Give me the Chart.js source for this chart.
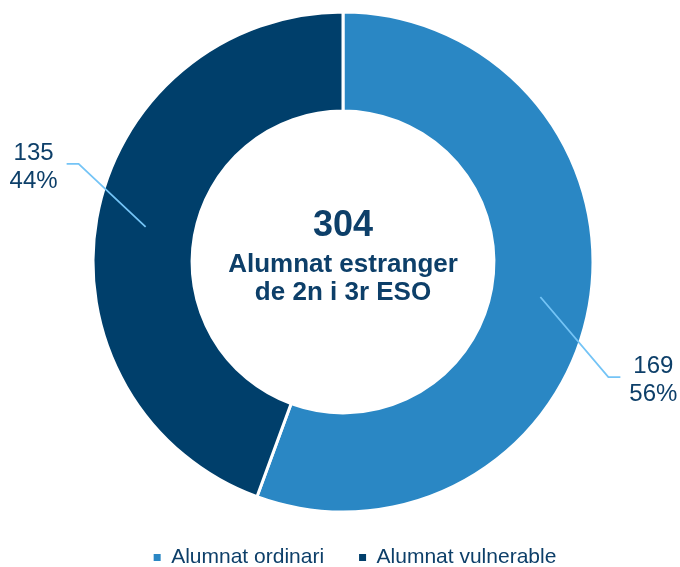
<!DOCTYPE html>
<html>
<head>
<meta charset="utf-8">
<script src="https://cdn.jsdelivr.net/npm/chart.js@4/dist/chart.umd.min.js"></script>
<style>
  html, body { margin: 0; padding: 0; background: #fff; }
  #wrap { width: 680px; height: 567px; position: relative; }
</style>
</head>
<body>
<div id="wrap"><canvas id="chart"></canvas></div>
<script>
// data
const categories = ['Alumnat ordinari', 'Alumnat vulnerable'];
const values = [169, 135];
const centerLabel = ['Alumnat estranger', 'de 2n i 3r ESO'];

const colors = ['#2A87C4', '#003F6B'];
const textColor = '#0D3F69';
const leaderColor = '#74C4F6';
const FONT = "'Liberation Sans', Arial, sans-serif";

// leader line offsets from slice middle (px), per slice
const leaderDx = [68, -67];
const leaderDy = [80, -63];

const total = values.reduce((a, b) => a + b, 0);

const doughnutLabels = {
  id: 'doughnutLabels',
  afterLayout(chart) {
    // legend sits a little right of the doughnut centre
    chart.legend.left += 12;
    chart.legend.right += 12;
  },
  afterDatasetsDraw(chart) {
    const ctx = chart.ctx;
    const meta = chart.getDatasetMeta(0);
    ctx.save();
    meta.data.forEach((arc, i) => {
      const p = arc.getProps(['x', 'y', 'startAngle', 'endAngle', 'innerRadius', 'outerRadius'], true);
      const a = (p.startAngle + p.endAngle) / 2;
      const r = (p.innerRadius + p.outerRadius) / 2;
      const sx = p.x + Math.cos(a) * r;
      const sy = p.y + Math.sin(a) * r;
      const side = Math.cos(a) >= 0 ? 1 : -1;
      const ex = sx + leaderDx[i];
      const ey = sy + leaderDy[i];
      const hx = ex + side * 12;

      ctx.strokeStyle = leaderColor;
      ctx.lineWidth = 1.8;
      ctx.beginPath();
      ctx.moveTo(sx, sy);
      ctx.lineTo(ex, ey);
      ctx.lineTo(hx, ey);
      ctx.stroke();

      const tx = hx + side * 33;
      ctx.fillStyle = textColor;
      ctx.font = '24px ' + FONT;
      ctx.textAlign = 'center';
      ctx.textBaseline = 'middle';
      ctx.fillText(String(values[i]), tx, ey - 11);
      ctx.fillText(Math.round(values[i] / total * 100) + '%', tx, ey + 17);
    });

    // centre text
    const cx = meta.data[0].x;
    const cy = meta.data[0].y;
    ctx.fillStyle = textColor;
    ctx.textAlign = 'center';
    ctx.textBaseline = 'middle';
    ctx.font = 'bold 36px ' + FONT;
    ctx.fillText(String(total), cx, cy - 36);
    ctx.font = 'bold 26px ' + FONT;
    ctx.fillText(centerLabel[0], cx, cy + 3);
    ctx.fillText(centerLabel[1], cx, cy + 31);
    ctx.restore();
  }
};

new Chart(document.getElementById('chart'), {
  type: 'doughnut',
  data: {
    labels: categories,
    datasets: [{
      data: values,
      backgroundColor: colors,
      borderColor: '#ffffff',
      borderWidth: 3
    }]
  },
  options: {
    responsive: true,
    maintainAspectRatio: false,
    animation: false,
    radius: 250,
    cutout: 150,
    layout: { padding: { left: 6, top: 12, right: 0, bottom: 0 } },
    plugins: {
      tooltip: { enabled: false },
      legend: {
        position: 'bottom',
        maxHeight: 55,
        labels: {
          color: textColor,
          font: { family: FONT, size: 21 },
          boxWidth: 7,
          boxHeight: 7,
          padding: 35,
          generateLabels(chart) {
            return Chart.overrides.doughnut.plugins.legend.labels.generateLabels(chart)
              .map(item => Object.assign(item, { lineWidth: 0, strokeStyle: 'transparent' }));
          }
        }
      }
    }
  },
  plugins: [doughnutLabels]
});
</script>
</body>
</html>
